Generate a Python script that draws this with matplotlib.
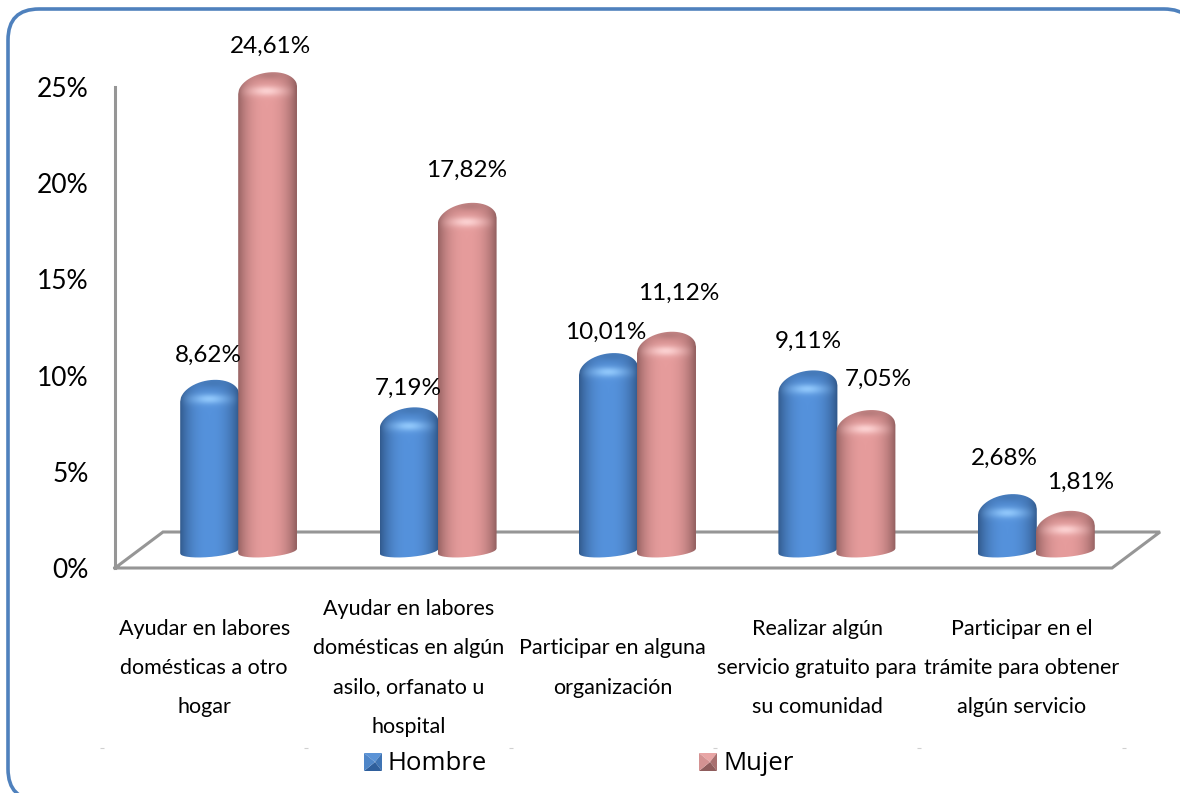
import numpy as np
import matplotlib
matplotlib.use("Agg")
import matplotlib.pyplot as plt
from matplotlib.patches import FancyBboxPatch, PathPatch
from matplotlib.path import Path

W, H = 1180, 793

categorias = [
    "Ayudar en labores\ndomésticas a otro\nhogar",
    "Ayudar en labores\ndomésticas en algún\nasilo, orfanato u\nhospital",
    "Participar en alguna\norganización",
    "Realizar algún\nservicio gratuito para\nsu comunidad",
    "Participar en el\ntrámite para obtener\nalgún servicio",
]
hombre = [8.62, 7.19, 10.01, 9.11, 2.68]
mujer = [24.61, 17.82, 11.12, 7.05, 1.81]
ticks = [0, 5, 10, 15, 20, 25]

AZUL = dict(centro="#5592dc", borde="#31598c", tapa="#4478b6", brillo="#8fc6fa",
            tri=["#5b93d6", "#3f74b4", "#2f5f9c", "#4f86c8"])
ROSA = dict(centro="#e69c9c", borde="#966262", tapa="#b47a7a", brillo="#fbd0d0",
            tri=["#e8a5a5", "#a86f6f", "#8f5c5c", "#d49292"])

fig = plt.figure(figsize=(W / 100, H / 100), dpi=100)
fondo = fig.add_axes([0, 0, 1, 1])
fondo.set_xlim(0, W)
fondo.set_ylim(H, 0)
fondo.axis("off")
# el marco se sale de la imagen por la derecha y por abajo
fondo.add_patch(FancyBboxPatch((8, 9), 1187, 791, boxstyle="round,pad=0,rounding_size=31",
                               fc="white", ec="#4f81bd", lw=2.6))

# el eje va de x=115 a 1112 y de y=568 (0%) a y=87 (25%)
ax = fig.add_axes([115 / W, 1 - 568 / H, 997 / W, 481 / H])
ax.set_xlim(0, 5)
ax.set_ylim(0, 25)
ax.axis("off")
ax.patch.set_alpha(0)

PX_X = 5 / 997
PX_Y = 25 / 481
FONDO_X = 48 * PX_X
FONDO_Y = 36 * PX_Y
GRIS = "#969696"


def rgb(c):
    return np.array(matplotlib.colors.to_rgb(c))


def cilindro(xc, valor, col, z):
    ancho = 29.5  # medio ancho en px
    u = np.linspace(-1, 1, 80)
    alto_tapa = 18.0
    incl = 3.5

    # todo en px relativos a la base, luego a datos
    y_cima = valor / PX_Y + 22
    y_base = 17.0
    sup = y_cima - alto_tapa + alto_tapa * (1 - np.abs(u) ** 2.0) ** (1 / 2.0) + incl * u
    inf = y_base - 6 * np.sqrt(1 - u ** 2) + incl * 0.7 * u
    xs = xc + u * ancho * PX_X
    verts = np.r_[np.c_[xs, sup * PX_Y], np.c_[xs[::-1], inf[::-1] * PX_Y]]
    clip = PathPatch(Path(np.r_[verts, verts[:1]]), transform=ax.transData, fc="none", ec="none")
    ax.add_patch(clip)

    ny = int(y_cima - y_base + 14)
    yy = np.linspace(y_cima + 4, y_base - 10, ny)
    uu = np.linspace(-1, 1, 60)
    U, Y = np.meshgrid(uu, yy)

    # sombreado horizontal del cilindro
    t = np.clip(np.abs(U + 0.02) ** 2.4, 0, 1)[..., None]
    img = rgb(col["centro"]) * (1 - t) + rgb(col["borde"]) * t

    d = y_cima - Y
    # hombros de la tapa mas oscuros
    hombro = np.clip(1 - d / 22, 0, 1)[..., None] * 0.25
    img = img * (1 - hombro) + rgb(col["borde"]) * hombro
    tapa = np.exp(-((U - 0.08) / 0.6) ** 2 - ((d - 2.5) / 4.5) ** 2)[..., None]
    img = img * (1 - 0.85 * tapa) + rgb(col["tapa"]) * 0.85 * tapa
    brillo = np.exp(-((U + 0.02) / 0.42) ** 2 - ((d - 18.5) / 4.0) ** 2)[..., None]
    img = img * (1 - brillo) + rgb(col["brillo"]) * brillo
    # banda clara ancha bajo la tapa
    banda = np.exp(-((d - 18.5) / 6.0) ** 2)[..., None] * (1 - t) * 0.4
    img = img * (1 - banda) + rgb(col["brillo"]) * banda

    extent = (xs[0], xs[-1], (y_base - 10) * PX_Y, (y_cima + 4) * PX_Y)
    im = ax.imshow(img, extent=extent, origin="upper", aspect="auto",
                   interpolation="bilinear", zorder=z)
    im.set_clip_box(fig.bbox)
    im.set_clip_path(clip)


# piso
px = [0, 5, 5 + FONDO_X, FONDO_X, 0]
py = [0, 0, FONDO_Y, FONDO_Y, 0]
ax.plot(px, py, color=GRIS, lw=2.2, clip_on=False, zorder=1, solid_joinstyle="miter")
ax.plot([0, 0], [0, 25], color=GRIS, lw=2.2, clip_on=False, zorder=1)

for t in ticks:
    ax.text(-26 * PX_X, t - 0.13, f"{t}%", ha="right", va="center", fontsize=19,
            family=["Lato", "DejaVu Sans"], color="black")

for i in range(len(categorias)):
    xc = i + 0.5 + 24 * PX_X
    cilindro(xc - 29 * PX_X, hombre[i], AZUL, 3)
    cilindro(xc + 29 * PX_X, mujer[i], ROSA, 4)

# etiquetas de valor (posicion a mano, como en el original)
desp_h = [(-1, 25), (-1, 19), (-3, 21), (0, 29), (-3, 36)]
desp_m = [(3, 26), (0, 33), (12, 39), (12, 31), (15, 29)]
for i in range(len(categorias)):
    xc = i + 0.5 + 24 * PX_X
    for v, sx, (dx, dy) in zip((hombre[i], mujer[i]), (-29, 29), (desp_h[i], desp_m[i])):
        ax.text(xc + (sx + dx) * PX_X, v + (22 + dy) * PX_Y, f"{v:.2f}%".replace(".", ","),
                ha="center", va="center", fontsize=17.5, family=["Lato", "DejaVu Sans"],
                color="black", zorder=6, clip_on=False)

# etiquetas de categoria: en el original caen cada 204 px, no sobre el piso
PASO_ETIQ = 204.3 * PX_X
INICIO_ETIQ = -13 * PX_X
for i, c in enumerate(categorias):
    ax.text(INICIO_ETIQ + (i + 0.5) * PASO_ETIQ, -100 * PX_Y, c, ha="center", va="center",
            fontsize=15.5, family=["Lato", "DejaVu Sans"], linespacing=2.19,
            color="black", clip_on=False)
for i in range(len(categorias) + 1):
    ax.plot([INICIO_ETIQ + i * PASO_ETIQ], [-179.5 * PX_Y], marker="_", ms=3, mew=0.8,
            color="#d0d0d0", clip_on=False)

# leyenda: cuadrito biselado de cuatro triangulos
for x0, col, txt in [(364, AZUL, "Hombre"), (699, ROSA, "Mujer")]:
    x1, y0, y1 = x0 + 18, 753, 771
    cx, cy = x0 + 11, 762
    esquinas = [(x0, y0), (x1, y0), (x1, y1), (x0, y1)]
    for k in range(4):
        a, b = esquinas[k], esquinas[(k + 1) % 4]
        fondo.fill([a[0], b[0], cx], [a[1], b[1], cy], color=col["tri"][k], lw=0, zorder=5)
    fondo.text(x0 + 24, 763, txt, ha="left", va="center", fontsize=18.5,
               family=["Open Sans", "DejaVu Sans"], color="black", zorder=5)

fig.savefig("out.png", dpi=100)
